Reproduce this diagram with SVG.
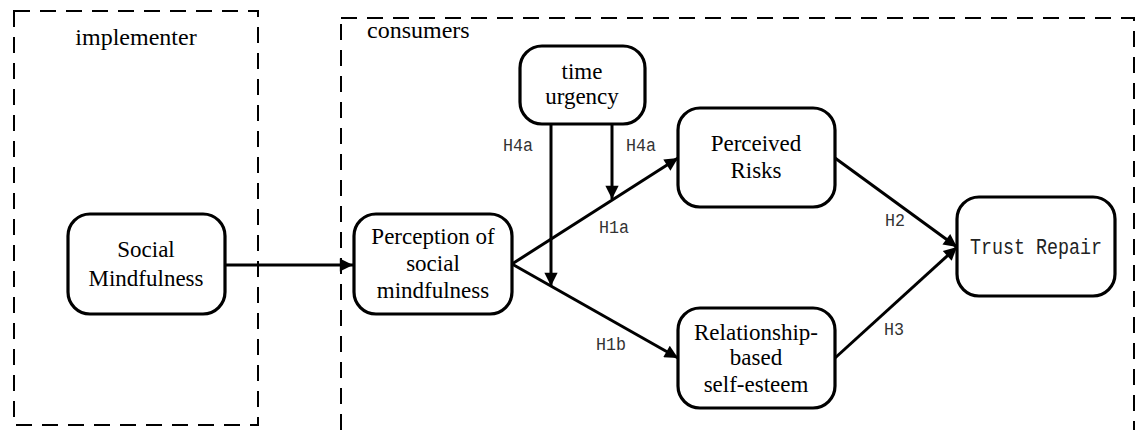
<svg xmlns="http://www.w3.org/2000/svg" width="1136" height="430" viewBox="0 0 1136 430">
<style>
.group{fill:none;stroke:#000;stroke-width:2;stroke-dasharray:16 10}
.node rect{fill:#fff;stroke:#000;stroke-width:3.2}
.t{font-family:"Liberation Serif","Times New Roman",serif;font-size:23px;fill:#000;text-anchor:middle}
.g{font-family:"Liberation Serif","Times New Roman",serif;font-size:24px;fill:#000}
.m{font-family:"Liberation Mono","DejaVu Sans Mono",monospace;font-size:19px;fill:#333;text-anchor:middle}
.edge{stroke:#000;stroke-width:3;fill:none;marker-end:url(#arr)}
</style>
<defs>
<marker id="arr" viewBox="0 0 10 10" refX="10" refY="5" markerWidth="5.4" markerHeight="4.4" markerUnits="strokeWidth" orient="auto">
<path d="M0,0 L10,5 L0,10 z" fill="#000"/>
</marker>
</defs>
<rect class="group" x="14" y="11" width="244" height="414"/>
<rect class="group" x="341" y="18" width="793" height="440"/>
<text class="g" x="136" y="45" text-anchor="middle">implementer</text>
<text class="g" x="367" y="38">consumers</text>
<g id="connectors">
<path class="edge" d="M225,265 L353,265"/>
<path class="edge" d="M512,264 L678,158"/>
<path class="edge" d="M512,264 L678,358"/>
<path class="edge" d="M551,124 L551,286"/>
<path class="edge" d="M612,124 L612,199"/>
<path class="edge" d="M835,158 L957,247"/>
<path class="edge" d="M835,358 L957,247"/>
<text class="m" x="518" y="151" textLength="30" lengthAdjust="spacingAndGlyphs">H4a</text>
<text class="m" x="641" y="151" textLength="30" lengthAdjust="spacingAndGlyphs">H4a</text>
<text class="m" x="614" y="233" textLength="30" lengthAdjust="spacingAndGlyphs">H1a</text>
<text class="m" x="611" y="350" textLength="30" lengthAdjust="spacingAndGlyphs">H1b</text>
<text class="m" x="895" y="226" textLength="20" lengthAdjust="spacingAndGlyphs">H2</text>
<text class="m" x="894" y="335" textLength="20" lengthAdjust="spacingAndGlyphs">H3</text>
</g>
<g id="social-mindfulness" class="node">
<rect x="68" y="214" width="157" height="100" rx="22"/>
<text class="t" x="146" y="257">Social</text>
<text class="t" x="146" y="286">Mindfulness</text>
</g>
<g id="perception" class="node">
<rect x="354" y="214" width="158" height="100" rx="22"/>
<text class="t" x="433" y="244">Perception of</text>
<text class="t" x="433" y="271">social</text>
<text class="t" x="433" y="298">mindfulness</text>
</g>
<g id="time-urgency" class="node">
<rect x="520" y="46" width="125" height="78" rx="22"/>
<text class="t" x="582" y="79">time</text>
<text class="t" x="582" y="104">urgency</text>
</g>
<g id="perceived-risks" class="node">
<rect x="678" y="108" width="157" height="99" rx="22"/>
<text class="t" x="756" y="151">Perceived</text>
<text class="t" x="756" y="178">Risks</text>
</g>
<g id="self-esteem" class="node">
<rect x="678" y="308" width="157" height="100" rx="22"/>
<text class="t" x="756" y="340">Relationship-</text>
<text class="t" x="756" y="365">based</text>
<text class="t" x="756" y="392">self-esteem</text>
</g>
<g id="trust-repair" class="node">
<rect x="957" y="197" width="158" height="99" rx="22"/>
<text class="m" x="1036" y="254" textLength="132" lengthAdjust="spacingAndGlyphs" style="font-size:22px;fill:#222">Trust Repair</text>
</g>
</svg>
